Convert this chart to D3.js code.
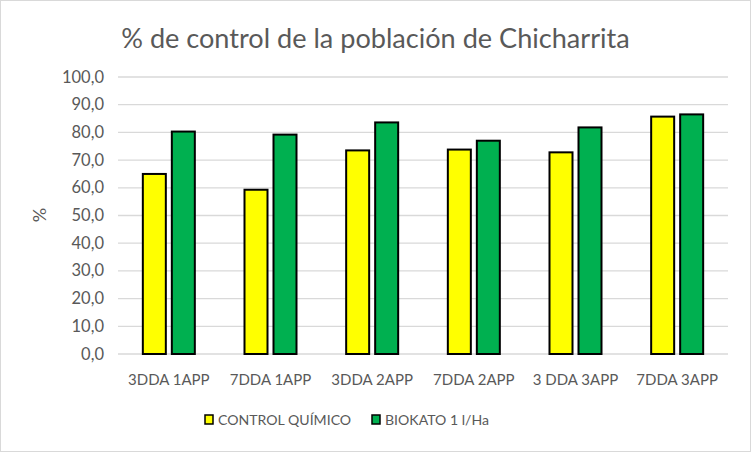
<!DOCTYPE html>
<html><head><meta charset="utf-8">
<script src="https://cdn.jsdelivr.net/npm/d3@7"></script>
<style>body{margin:0;background:#fff}svg{display:block}text{font-family:Lato,"Open Sans",sans-serif}</style>
</head><body>
<script>
const categories = ["3DDA 1APP","7DDA 1APP","3DDA 2APP","7DDA 2APP","3 DDA 3APP","7DDA 3APP"];
const seriesNames = ["CONTROL QUÍMICO","BIOKATO 1 l/Ha"];
const controlQuimico = [65.0, 59.3, 73.5, 73.8, 72.8, 85.7];
const biokato = [80.3, 79.2, 83.6, 77.0, 81.8, 86.5];
const yTicks = [0,10,20,30,40,50,60,70,80,90,100];
const colors = ["#FFFF00","#00B050"];

const W=751,H=452;
const svg=d3.select("body").append("svg").attr("width",W).attr("height",H);
svg.append("rect").attr("x",0.5).attr("y",0.5).attr("width",W-1).attr("height",H-1).attr("fill","#fff").attr("stroke","#D9D9D9");

const x=d3.scaleBand().domain(categories).range([118,728]);
const y=d3.scaleLinear().domain([0,100]).range([354,77]);

svg.append("text").attr("x",375.5).attr("y",48).attr("text-anchor","middle").attr("font-size",27.1).attr("fill","#595959").text("% de control de la población de Chicharrita");

const g=svg.append("g");
g.selectAll("line.grid").data(yTicks).join("line").attr("x1",118).attr("x2",728)
 .attr("y1",d=>y(d)).attr("y2",d=>y(d)).attr("stroke","#D9D9D9").attr("stroke-width",1.3);
g.selectAll("text.yt").data(yTicks).join("text").attr("x",104).attr("y",d=>y(d)+5.5).attr("text-anchor","end")
 .attr("font-size",16.5).attr("fill","#595959").text(d=>d3.format(".1f")(d).replace(".",","));

svg.append("text").attr("transform","translate(46,215) rotate(-90)").attr("text-anchor","middle").attr("font-size",18).attr("fill","#595959").text("%");

const data=[controlQuimico,biokato];
const bw=23, gap=6;
data.forEach((vals,si)=>{
  g.selectAll("rect.s"+si).data(vals).join("rect")
   .attr("x",(d,i)=>x(categories[i])+x.bandwidth()/2 + (si===0? -gap/2-bw : gap/2))
   .attr("y",d=>y(d)).attr("width",bw).attr("height",d=>y(0)-y(d))
   .attr("fill",colors[si]).attr("stroke","#000").attr("stroke-width",2);
});

g.selectAll("text.xt").data(categories).join("text").attr("x",d=>x(d)+x.bandwidth()/2).attr("y",385)
 .attr("text-anchor","middle").attr("font-size",15).attr("fill","#595959").text(d=>d);

const leg=[{x:205},{x:372}];
seriesNames.forEach((n,i)=>{
  svg.append("rect").attr("x",leg[i].x).attr("y",415).attr("width",8).attr("height",9).attr("fill",colors[i]).attr("stroke","#000").attr("stroke-width",1.5);
  svg.append("text").attr("x",leg[i].x+13).attr("y",425).attr("font-size",14.1).attr("fill","#595959").text(n);
});
</script>
</body></html>
